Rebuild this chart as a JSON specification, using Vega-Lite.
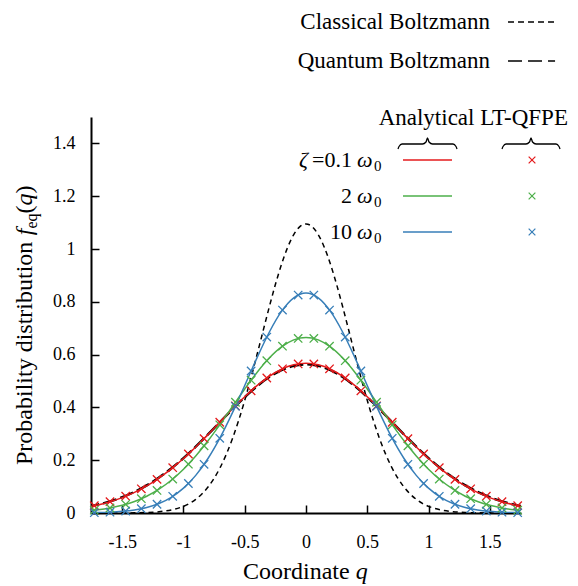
{
  "$schema": "https://vega.github.io/schema/vega-lite/v6.json",
  "width": 430,
  "height": 396,
  "autosize": {"type": "none"},
  "padding": {"left": 91, "top": 117, "right": 57, "bottom": 73},
  "background": "white",
  "config": {"view": {"stroke": null}, "text": {"font": "serif"}},
  "datasets": {
    "cv": [
      {"s":"c","x":-1.8,"y":0},{"s":"c","x":-1.6,"y":0.0001},{"s":"c","x":-1.5,"y":0.0002},{"s":"c","x":-1.4,"y":0.0007},{"s":"c","x":-1.3,"y":0.0019},{"s":"c","x":-1.2,"y":0.0048},{"s":"c","x":-1.1,"y":0.0115},{"s":"c","x":-1.0,"y":0.0253},{"s":"c","x":-0.95,"y":0.0365},{"s":"c","x":-0.9,"y":0.0518},{"s":"c","x":-0.85,"y":0.072},{"s":"c","x":-0.8,"y":0.0982},{"s":"c","x":-0.75,"y":0.1316},{"s":"c","x":-0.7,"y":0.1729},{"s":"c","x":-0.65,"y":0.2229},{"s":"c","x":-0.6,"y":0.2821},{"s":"c","x":-0.55,"y":0.3503},{"s":"c","x":-0.5,"y":0.427},{"s":"c","x":-0.45,"y":0.5106},{"s":"c","x":-0.4,"y":0.5993},{"s":"c","x":-0.35,"y":0.6902},{"s":"c","x":-0.3,"y":0.7801},{"s":"c","x":-0.25,"y":0.8653},{"s":"c","x":-0.2,"y":0.9418},{"s":"c","x":-0.15,"y":1.006},{"s":"c","x":-0.1,"y":1.0545},{"s":"c","x":-0.05,"y":1.0847},{"s":"c","x":0,"y":1.095},
      {"s":"c","x":1.8,"y":0},{"s":"c","x":1.6,"y":0.0001},{"s":"c","x":1.5,"y":0.0002},{"s":"c","x":1.4,"y":0.0007},{"s":"c","x":1.3,"y":0.0019},{"s":"c","x":1.2,"y":0.0048},{"s":"c","x":1.1,"y":0.0115},{"s":"c","x":1.0,"y":0.0253},{"s":"c","x":0.95,"y":0.0365},{"s":"c","x":0.9,"y":0.0518},{"s":"c","x":0.85,"y":0.072},{"s":"c","x":0.8,"y":0.0982},{"s":"c","x":0.75,"y":0.1316},{"s":"c","x":0.7,"y":0.1729},{"s":"c","x":0.65,"y":0.2229},{"s":"c","x":0.6,"y":0.2821},{"s":"c","x":0.55,"y":0.3503},{"s":"c","x":0.5,"y":0.427},{"s":"c","x":0.45,"y":0.5106},{"s":"c","x":0.4,"y":0.5993},{"s":"c","x":0.35,"y":0.6902},{"s":"c","x":0.3,"y":0.7801},{"s":"c","x":0.25,"y":0.8653},{"s":"c","x":0.2,"y":0.9418},{"s":"c","x":0.15,"y":1.006},{"s":"c","x":0.1,"y":1.0545},{"s":"c","x":0.05,"y":1.0847},
      {"s":"q","x":0,"y":0.563},{"s":"q","x":0.1,"y":0.5574},{"s":"q","x":0.2,"y":0.541},{"s":"q","x":0.3,"y":0.5147},{"s":"q","x":0.4,"y":0.4801},{"s":"q","x":0.5,"y":0.4389},{"s":"q","x":0.6,"y":0.3934},{"s":"q","x":0.7,"y":0.3456},{"s":"q","x":0.8,"y":0.2977},{"s":"q","x":0.9,"y":0.2513},{"s":"q","x":1.0,"y":0.208},{"s":"q","x":1.1,"y":0.1687},{"s":"q","x":1.2,"y":0.1342},{"s":"q","x":1.3,"y":0.1046},{"s":"q","x":1.4,"y":0.08},{"s":"q","x":1.5,"y":0.0599},{"s":"q","x":1.6,"y":0.044},{"s":"q","x":1.7,"y":0.0317},{"s":"q","x":1.8,"y":0.0224},
      {"s":"q","x":-0.1,"y":0.5574},{"s":"q","x":-0.2,"y":0.541},{"s":"q","x":-0.3,"y":0.5147},{"s":"q","x":-0.4,"y":0.4801},{"s":"q","x":-0.5,"y":0.4389},{"s":"q","x":-0.6,"y":0.3934},{"s":"q","x":-0.7,"y":0.3456},{"s":"q","x":-0.8,"y":0.2977},{"s":"q","x":-0.9,"y":0.2513},{"s":"q","x":-1.0,"y":0.208},{"s":"q","x":-1.1,"y":0.1687},{"s":"q","x":-1.2,"y":0.1342},{"s":"q","x":-1.3,"y":0.1046},{"s":"q","x":-1.4,"y":0.08},{"s":"q","x":-1.5,"y":0.0599},{"s":"q","x":-1.6,"y":0.044},{"s":"q","x":-1.7,"y":0.0317},{"s":"q","x":-1.8,"y":0.0224},
      {"s":"r","x":0,"y":0.567},{"s":"r","x":0.1,"y":0.5613},{"s":"r","x":0.2,"y":0.5445},{"s":"r","x":0.3,"y":0.5177},{"s":"r","x":0.4,"y":0.4824},{"s":"r","x":0.5,"y":0.4405},{"s":"r","x":0.6,"y":0.3942},{"s":"r","x":0.7,"y":0.3457},{"s":"r","x":0.8,"y":0.2971},{"s":"r","x":0.9,"y":0.2502},{"s":"r","x":1.0,"y":0.2065},{"s":"r","x":1.1,"y":0.167},{"s":"r","x":1.2,"y":0.1324},{"s":"r","x":1.3,"y":0.1029},{"s":"r","x":1.4,"y":0.0783},{"s":"r","x":1.5,"y":0.0584},{"s":"r","x":1.6,"y":0.0427},{"s":"r","x":1.7,"y":0.0306},{"s":"r","x":1.8,"y":0.0215},
      {"s":"r","x":-0.1,"y":0.5613},{"s":"r","x":-0.2,"y":0.5445},{"s":"r","x":-0.3,"y":0.5177},{"s":"r","x":-0.4,"y":0.4824},{"s":"r","x":-0.5,"y":0.4405},{"s":"r","x":-0.6,"y":0.3942},{"s":"r","x":-0.7,"y":0.3457},{"s":"r","x":-0.8,"y":0.2971},{"s":"r","x":-0.9,"y":0.2502},{"s":"r","x":-1.0,"y":0.2065},{"s":"r","x":-1.1,"y":0.167},{"s":"r","x":-1.2,"y":0.1324},{"s":"r","x":-1.3,"y":0.1029},{"s":"r","x":-1.4,"y":0.0783},{"s":"r","x":-1.5,"y":0.0584},{"s":"r","x":-1.6,"y":0.0427},{"s":"r","x":-1.7,"y":0.0306},{"s":"r","x":-1.8,"y":0.0215},
      {"s":"g","x":0,"y":0.665},{"s":"g","x":0.1,"y":0.6558},{"s":"g","x":0.2,"y":0.6291},{"s":"g","x":0.3,"y":0.5869},{"s":"g","x":0.4,"y":0.5325},{"s":"g","x":0.5,"y":0.4699},{"s":"g","x":0.6,"y":0.4033},{"s":"g","x":0.7,"y":0.3367},{"s":"g","x":0.8,"y":0.2734},{"s":"g","x":0.9,"y":0.2159},{"s":"g","x":1.0,"y":0.1658},{"s":"g","x":1.1,"y":0.1239},{"s":"g","x":1.2,"y":0.09},{"s":"g","x":1.3,"y":0.0636},{"s":"g","x":1.4,"y":0.0437},{"s":"g","x":1.5,"y":0.0292},{"s":"g","x":1.6,"y":0.019},{"s":"g","x":1.7,"y":0.012},{"s":"g","x":1.8,"y":0.0074},
      {"s":"g","x":-0.1,"y":0.6558},{"s":"g","x":-0.2,"y":0.6291},{"s":"g","x":-0.3,"y":0.5869},{"s":"g","x":-0.4,"y":0.5325},{"s":"g","x":-0.5,"y":0.4699},{"s":"g","x":-0.6,"y":0.4033},{"s":"g","x":-0.7,"y":0.3367},{"s":"g","x":-0.8,"y":0.2734},{"s":"g","x":-0.9,"y":0.2159},{"s":"g","x":-1.0,"y":0.1658},{"s":"g","x":-1.1,"y":0.1239},{"s":"g","x":-1.2,"y":0.09},{"s":"g","x":-1.3,"y":0.0636},{"s":"g","x":-1.4,"y":0.0437},{"s":"g","x":-1.5,"y":0.0292},{"s":"g","x":-1.6,"y":0.019},{"s":"g","x":-1.7,"y":0.012},{"s":"g","x":-1.8,"y":0.0074},
      {"s":"b","x":0,"y":0.833},{"s":"b","x":0.1,"y":0.815},{"s":"b","x":0.2,"y":0.7635},{"s":"b","x":0.3,"y":0.6847},{"s":"b","x":0.4,"y":0.5878},{"s":"b","x":0.5,"y":0.4831},{"s":"b","x":0.6,"y":0.3801},{"s":"b","x":0.7,"y":0.2864},{"s":"b","x":0.8,"y":0.2065},{"s":"b","x":0.9,"y":0.1426},{"s":"b","x":1.0,"y":0.0942},{"s":"b","x":1.1,"y":0.0596},{"s":"b","x":1.2,"y":0.0361},{"s":"b","x":1.3,"y":0.021},{"s":"b","x":1.4,"y":0.0116},{"s":"b","x":1.5,"y":0.0062},{"s":"b","x":1.6,"y":0.0031},{"s":"b","x":1.7,"y":0.0015},{"s":"b","x":1.8,"y":0.0007},
      {"s":"b","x":-0.1,"y":0.815},{"s":"b","x":-0.2,"y":0.7635},{"s":"b","x":-0.3,"y":0.6847},{"s":"b","x":-0.4,"y":0.5878},{"s":"b","x":-0.5,"y":0.4831},{"s":"b","x":-0.6,"y":0.3801},{"s":"b","x":-0.7,"y":0.2864},{"s":"b","x":-0.8,"y":0.2065},{"s":"b","x":-0.9,"y":0.1426},{"s":"b","x":-1.0,"y":0.0942},{"s":"b","x":-1.1,"y":0.0596},{"s":"b","x":-1.2,"y":0.0361},{"s":"b","x":-1.3,"y":0.021},{"s":"b","x":-1.4,"y":0.0116},{"s":"b","x":-1.5,"y":0.0062},{"s":"b","x":-1.6,"y":0.0031},{"s":"b","x":-1.7,"y":0.0015},{"s":"b","x":-1.8,"y":0.0007}
    ],
    "pt": [
      {"s":"r","x":0.064,"y":0.5647},{"s":"r","x":0.192,"y":0.5463},{"s":"r","x":0.32,"y":0.5113},{"s":"r","x":0.448,"y":0.463},{"s":"r","x":0.576,"y":0.4055},{"s":"r","x":0.704,"y":0.3437},{"s":"r","x":0.832,"y":0.2818},{"s":"r","x":0.96,"y":0.2235},{"s":"r","x":1.088,"y":0.1715},{"s":"r","x":1.216,"y":0.1274},{"s":"r","x":1.344,"y":0.0915},{"s":"r","x":1.472,"y":0.0636},{"s":"r","x":1.6,"y":0.0427},{"s":"r","x":1.728,"y":0.0278},
      {"s":"r","x":-0.064,"y":0.5647},{"s":"r","x":-0.192,"y":0.5463},{"s":"r","x":-0.32,"y":0.5113},{"s":"r","x":-0.448,"y":0.463},{"s":"r","x":-0.576,"y":0.4055},{"s":"r","x":-0.704,"y":0.3437},{"s":"r","x":-0.832,"y":0.2818},{"s":"r","x":-0.96,"y":0.2235},{"s":"r","x":-1.088,"y":0.1715},{"s":"r","x":-1.216,"y":0.1274},{"s":"r","x":-1.344,"y":0.0915},{"s":"r","x":-1.472,"y":0.0636},{"s":"r","x":-1.6,"y":0.0427},{"s":"r","x":-1.728,"y":0.0278},
      {"s":"g","x":0.064,"y":0.6612},{"s":"g","x":0.192,"y":0.6318},{"s":"g","x":0.32,"y":0.5768},{"s":"g","x":0.448,"y":0.5032},{"s":"g","x":0.576,"y":0.4195},{"s":"g","x":0.704,"y":0.3341},{"s":"g","x":0.832,"y":0.2543},{"s":"g","x":0.96,"y":0.1849},{"s":"g","x":1.088,"y":0.1285},{"s":"g","x":1.216,"y":0.0853},{"s":"g","x":1.344,"y":0.0541},{"s":"g","x":1.472,"y":0.0328},{"s":"g","x":1.6,"y":0.019},{"s":"g","x":1.728,"y":0.0105},
      {"s":"g","x":-0.064,"y":0.6612},{"s":"g","x":-0.192,"y":0.6318},{"s":"g","x":-0.32,"y":0.5768},{"s":"g","x":-0.448,"y":0.5032},{"s":"g","x":-0.576,"y":0.4195},{"s":"g","x":-0.704,"y":0.3341},{"s":"g","x":-0.832,"y":0.2543},{"s":"g","x":-0.96,"y":0.1849},{"s":"g","x":-1.088,"y":0.1285},{"s":"g","x":-1.216,"y":0.0853},{"s":"g","x":-1.344,"y":0.0541},{"s":"g","x":-1.472,"y":0.0328},{"s":"g","x":-1.6,"y":0.019},{"s":"g","x":-1.728,"y":0.0105},
      {"s":"b","x":0.064,"y":0.8256},{"s":"b","x":0.192,"y":0.7687},{"s":"b","x":0.32,"y":0.6664},{"s":"b","x":0.448,"y":0.5379},{"s":"b","x":0.576,"y":0.4042},{"s":"b","x":0.704,"y":0.2829},{"s":"b","x":0.832,"y":0.1843},{"s":"b","x":0.96,"y":0.1118},{"s":"b","x":1.088,"y":0.0631},{"s":"b","x":1.216,"y":0.0332},{"s":"b","x":1.344,"y":0.0163},{"s":"b","x":1.472,"y":0.0074},{"s":"b","x":1.6,"y":0.0031},{"s":"b","x":1.728,"y":0.0012},
      {"s":"b","x":-0.064,"y":0.8256},{"s":"b","x":-0.192,"y":0.7687},{"s":"b","x":-0.32,"y":0.6664},{"s":"b","x":-0.448,"y":0.5379},{"s":"b","x":-0.576,"y":0.4042},{"s":"b","x":-0.704,"y":0.2829},{"s":"b","x":-0.832,"y":0.1843},{"s":"b","x":-0.96,"y":0.1118},{"s":"b","x":-1.088,"y":0.0631},{"s":"b","x":-1.216,"y":0.0332},{"s":"b","x":-1.344,"y":0.0163},{"s":"b","x":-1.472,"y":0.0074},{"s":"b","x":-1.6,"y":0.0031},{"s":"b","x":-1.728,"y":0.0012}
    ],
    "ll": [
      {"s":"c","x":1.649,"y":1.86},{"s":"c","x":2.033,"y":1.86},
      {"s":"q","x":1.649,"y":1.712},{"s":"q","x":2.033,"y":1.712},
      {"s":"r","x":0.7918,"y":1.3371},{"s":"r","x":1.1918,"y":1.3371},
      {"s":"g","x":0.7918,"y":1.2008},{"s":"g","x":1.1918,"y":1.2008},
      {"s":"b","x":0.7918,"y":1.0644},{"s":"b","x":1.1918,"y":1.0644}
    ],
    "lp": [
      {"s":"r","x":1.8449,"y":1.3371},{"s":"g","x":1.8449,"y":1.2008},{"s":"b","x":1.8449,"y":1.0644}
    ],
    "br": [
      {"id":"A","x":0.751,"y":1.3788},{"id":"A","x":0.7592,"y":1.3883},{"id":"A","x":0.7837,"y":1.3977},{"id":"A","x":0.951,"y":1.3977},{"id":"A","x":0.9796,"y":1.4053},{"id":"A","x":0.9918,"y":1.4205},{"id":"A","x":1.0041,"y":1.4053},{"id":"A","x":1.0327,"y":1.3977},{"id":"A","x":1.2,"y":1.3977},{"id":"A","x":1.2245,"y":1.3883},{"id":"A","x":1.2327,"y":1.3788},
      {"id":"B","x":1.6,"y":1.3788},{"id":"B","x":1.6082,"y":1.3883},{"id":"B","x":1.6327,"y":1.3977},{"id":"B","x":1.7959,"y":1.3977},{"id":"B","x":1.8245,"y":1.4053},{"id":"B","x":1.8367,"y":1.4205},{"id":"B","x":1.849,"y":1.4053},{"id":"B","x":1.8776,"y":1.3977},{"id":"B","x":2.0408,"y":1.3977},{"id":"B","x":2.0653,"y":1.3883},{"id":"B","x":2.0735,"y":1.3788}
    ],
    "tx": [
      {"g":"R","t":"Classical Boltzmann","x":1.502,"y":1.86},
      {"g":"R","t":"Quantum Boltzmann","x":1.502,"y":1.712},
      {"g":"C","t":"Analytical","x":0.984,"y":1.496},
      {"g":"C","t":"LT-QFPE","x":1.78,"y":1.496},
      {"g":"RR","t":"=0.1","x":0.3755,"y":1.3371},
      {"g":"RR","t":"2","x":0.3755,"y":1.2008},
      {"g":"RR","t":"10","x":0.3755,"y":1.0644},
      {"g":"IR","t":"ζ","x":0.0163,"y":1.3371},
      {"g":"IL","t":"ω","x":0.4163,"y":1.3371},
      {"g":"IL","t":"ω","x":0.4163,"y":1.2008},
      {"g":"IL","t":"ω","x":0.4163,"y":1.0644},
      {"g":"S","t":"0","x":0.5551,"y":1.3371},
      {"g":"S","t":"0","x":0.5551,"y":1.2008},
      {"g":"S","t":"0","x":0.5551,"y":1.0644},
      {"g":"XT","t":"Coordinate","x":-0.5143,"y":-0.2235},
      {"g":"XQ","t":"q","x":0.4057,"y":-0.2235},
      {"g":"YR","t":"Probability distribution","x":-2.2367,"y":0.1818},
      {"g":"YR","t":"(","x":-2.2367,"y":1.1345},
      {"g":"YR","t":")","x":-2.2367,"y":1.2102},
      {"g":"YI","t":"f","x":-2.2367,"y":1.0523},
      {"g":"YI","t":"q","x":-2.2367,"y":1.1648},
      {"g":"YS","t":"eq","x":-2.1959,"y":1.0777}
    ]
  },
  "layer": [
    {
      "data": {"name": "cv"},
      "transform": [{"filter": "datum.s == 'c'"}],
      "mark": {"type": "line", "color": "black", "strokeWidth": 1.5, "strokeDash": [5, 4], "interpolate": "monotone", "clip": true},
      "encoding": {
        "x": {"field": "x", "type": "quantitative", "scale": {"domain": [-1.755, 1.755], "nice": false, "zero": false},
          "axis": {"title": null, "values": [-1.5, -1, -0.5, 0, 0.5, 1, 1.5], "labelExpr": "datum.value < 0 ? '-' + format(-datum.value, '') : format(datum.value, '')", "grid": false, "domainColor": "black", "domainWidth": 2, "tickColor": "black", "tickWidth": 1.5, "tickSize": -8, "labelFont": "serif", "labelFontSize": 18, "labelColor": "black", "labelPadding": 28, "labelFlush": false, "labelOverlap": false}},
        "y": {"field": "y", "type": "quantitative", "scale": {"domain": [0, 1.5], "nice": false, "zero": false},
          "axis": {"title": null, "values": [0, 0.2, 0.4, 0.6, 0.8, 1, 1.2, 1.4], "labelExpr": "format(datum.value, '')", "grid": false, "domainColor": "black", "domainWidth": 2, "tickColor": "black", "tickWidth": 1.5, "tickSize": -8, "labelFont": "serif", "labelFontSize": 18, "labelColor": "black", "labelPadding": 24, "labelFlush": false, "labelOverlap": false}}
      }
    },
    {
      "data": {"name": "cv"},
      "transform": [{"filter": "datum.s == 'q'"}],
      "mark": {"type": "line", "color": "black", "strokeWidth": 2.4, "strokeDash": [14, 4], "interpolate": "monotone", "clip": true},
      "encoding": {"x": {"field": "x", "type": "quantitative"}, "y": {"field": "y", "type": "quantitative"}}
    },
    {
      "data": {"name": "cv"},
      "transform": [{"filter": "datum.s == 'r' || datum.s == 'g' || datum.s == 'b'"}],
      "mark": {"type": "line", "strokeWidth": 1.5, "interpolate": "monotone", "clip": true},
      "encoding": {
        "x": {"field": "x", "type": "quantitative"},
        "y": {"field": "y", "type": "quantitative"},
        "color": {"field": "s", "type": "nominal", "scale": {"domain": ["r", "g", "b"], "range": ["#e41a1c", "#4daf4a", "#377eb8"]}, "legend": null}
      }
    },
    {
      "data": {"name": "pt"},
      "mark": {"type": "point", "shape": "M-1,-1L1,1M-1,1L1,-1", "filled": false, "size": 70, "strokeWidth": 1.3, "opacity": 1},
      "encoding": {
        "x": {"field": "x", "type": "quantitative"},
        "y": {"field": "y", "type": "quantitative"},
        "color": {"field": "s", "type": "nominal", "legend": null}
      }
    },
    {
      "data": {"name": "ll"},
      "transform": [{"filter": "datum.s == 'c'"}],
      "mark": {"type": "line", "color": "black", "strokeWidth": 1.5, "strokeDash": [6, 4]},
      "encoding": {"x": {"field": "x", "type": "quantitative"}, "y": {"field": "y", "type": "quantitative"}}
    },
    {
      "data": {"name": "ll"},
      "transform": [{"filter": "datum.s == 'q'"}],
      "mark": {"type": "line", "color": "black", "strokeWidth": 1.5, "strokeDash": [14, 6]},
      "encoding": {"x": {"field": "x", "type": "quantitative"}, "y": {"field": "y", "type": "quantitative"}}
    },
    {
      "data": {"name": "ll"},
      "transform": [{"filter": "datum.s == 'r' || datum.s == 'g' || datum.s == 'b'"}],
      "mark": {"type": "line", "strokeWidth": 1.5},
      "encoding": {"x": {"field": "x", "type": "quantitative"}, "y": {"field": "y", "type": "quantitative"}, "color": {"field": "s", "type": "nominal", "legend": null}}
    },
    {
      "data": {"name": "lp"},
      "mark": {"type": "point", "shape": "M-1,-1L1,1M-1,1L1,-1", "filled": false, "size": 45, "strokeWidth": 1.2, "opacity": 1},
      "encoding": {"x": {"field": "x", "type": "quantitative"}, "y": {"field": "y", "type": "quantitative"}, "color": {"field": "s", "type": "nominal", "legend": null}}
    },
    {
      "data": {"name": "br"},
      "mark": {"type": "line", "color": "black", "strokeWidth": 1.3, "interpolate": "monotone"},
      "encoding": {"x": {"field": "x", "type": "quantitative"}, "y": {"field": "y", "type": "quantitative"}, "detail": {"field": "id"}}
    },
    {
      "data": {"name": "tx"}, "transform": [{"filter": "datum.g == 'R'"}],
      "mark": {"type": "text", "align": "right", "baseline": "middle", "fontSize": 23, "font": "serif", "color": "black"},
      "encoding": {"x": {"field": "x", "type": "quantitative"}, "y": {"field": "y", "type": "quantitative"}, "text": {"field": "t"}}
    },
    {
      "data": {"name": "tx"}, "transform": [{"filter": "datum.g == 'C'"}],
      "mark": {"type": "text", "align": "center", "baseline": "middle", "fontSize": 23, "font": "serif", "color": "black"},
      "encoding": {"x": {"field": "x", "type": "quantitative"}, "y": {"field": "y", "type": "quantitative"}, "text": {"field": "t"}}
    },
    {
      "data": {"name": "tx"}, "transform": [{"filter": "datum.g == 'RR'"}],
      "mark": {"type": "text", "align": "right", "baseline": "middle", "fontSize": 22, "font": "serif", "color": "black"},
      "encoding": {"x": {"field": "x", "type": "quantitative"}, "y": {"field": "y", "type": "quantitative"}, "text": {"field": "t"}}
    },
    {
      "data": {"name": "tx"}, "transform": [{"filter": "datum.g == 'IR'"}],
      "mark": {"type": "text", "align": "right", "baseline": "middle", "fontSize": 22, "fontStyle": "italic", "font": "serif", "color": "black"},
      "encoding": {"x": {"field": "x", "type": "quantitative"}, "y": {"field": "y", "type": "quantitative"}, "text": {"field": "t"}}
    },
    {
      "data": {"name": "tx"}, "transform": [{"filter": "datum.g == 'IL'"}],
      "mark": {"type": "text", "align": "left", "baseline": "middle", "fontSize": 22, "fontStyle": "italic", "font": "serif", "color": "black"},
      "encoding": {"x": {"field": "x", "type": "quantitative"}, "y": {"field": "y", "type": "quantitative"}, "text": {"field": "t"}}
    },
    {
      "data": {"name": "tx"}, "transform": [{"filter": "datum.g == 'S'"}],
      "mark": {"type": "text", "align": "left", "baseline": "middle", "fontSize": 15, "dy": 6, "font": "serif", "color": "black"},
      "encoding": {"x": {"field": "x", "type": "quantitative"}, "y": {"field": "y", "type": "quantitative"}, "text": {"field": "t"}}
    },
    {
      "data": {"name": "tx"}, "transform": [{"filter": "datum.g == 'XT'"}],
      "mark": {"type": "text", "align": "left", "baseline": "middle", "fontSize": 24, "font": "serif", "color": "black"},
      "encoding": {"x": {"field": "x", "type": "quantitative"}, "y": {"field": "y", "type": "quantitative"}, "text": {"field": "t"}}
    },
    {
      "data": {"name": "tx"}, "transform": [{"filter": "datum.g == 'XQ'"}],
      "mark": {"type": "text", "align": "left", "baseline": "middle", "fontSize": 24, "fontStyle": "italic", "font": "serif", "color": "black"},
      "encoding": {"x": {"field": "x", "type": "quantitative"}, "y": {"field": "y", "type": "quantitative"}, "text": {"field": "t"}}
    },
    {
      "data": {"name": "tx"}, "transform": [{"filter": "datum.g == 'YR'"}],
      "mark": {"type": "text", "align": "left", "baseline": "alphabetic", "angle": 270, "fontSize": 24, "font": "serif", "color": "black"},
      "encoding": {"x": {"field": "x", "type": "quantitative"}, "y": {"field": "y", "type": "quantitative"}, "text": {"field": "t"}}
    },
    {
      "data": {"name": "tx"}, "transform": [{"filter": "datum.g == 'YI'"}],
      "mark": {"type": "text", "align": "left", "baseline": "alphabetic", "angle": 270, "fontSize": 24, "fontStyle": "italic", "font": "serif", "color": "black"},
      "encoding": {"x": {"field": "x", "type": "quantitative"}, "y": {"field": "y", "type": "quantitative"}, "text": {"field": "t"}}
    },
    {
      "data": {"name": "tx"}, "transform": [{"filter": "datum.g == 'YS'"}],
      "mark": {"type": "text", "align": "left", "baseline": "alphabetic", "angle": 270, "fontSize": 16, "font": "serif", "color": "black"},
      "encoding": {"x": {"field": "x", "type": "quantitative"}, "y": {"field": "y", "type": "quantitative"}, "text": {"field": "t"}}
    }
  ]
}
